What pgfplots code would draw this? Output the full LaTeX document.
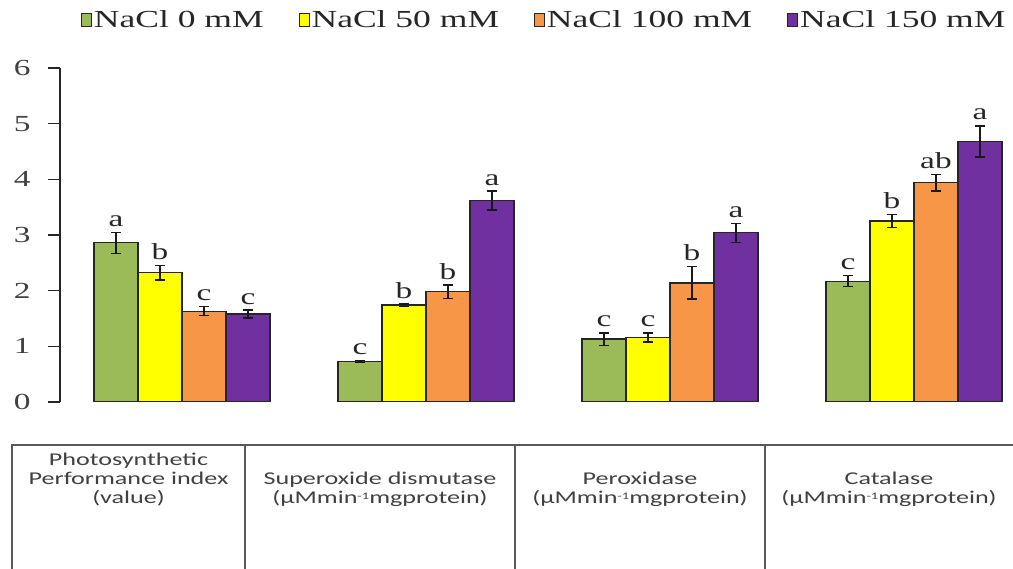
\documentclass[border=0pt]{standalone}
\usepackage{fontspec}
\setmainfont[FakeStretch=1.45]{Liberation Serif}
\newfontfamily\tabfont[FakeStretch=1.45]{Carlito}
\usepackage{pgfplots}
\pgfplotsset{compat=1.18}
\usepackage{pgfplotstable}
\definecolor{cgreen}{HTML}{9BBB59}
\definecolor{cyellow}{HTML}{FFFF00}
\definecolor{corange}{HTML}{F79646}
\definecolor{cpurple}{HTML}{7030A0}
\definecolor{txt}{HTML}{404040}
\definecolor{tabline}{HTML}{595959}

\pgfplotstableread{
x y e l
0 2.86 0.19 a
1 0.73 0.02 c
2 1.13 0.11 c
3 2.17 0.10 c
}\dgreen
\pgfplotstableread{
x y e l
0 2.32 0.13 b
1 1.74 0.02 b
2 1.16 0.08 c
3 3.25 0.12 b
}\dyellow
\pgfplotstableread{
x y e l
0 1.63 0.08 c
1 1.98 0.12 b
2 2.14 0.29 b
3 3.94 0.15 ab
}\dorange
\pgfplotstableread{
x y e l
0 1.58 0.07 c
1 3.62 0.17 a
2 3.04 0.17 a
3 4.68 0.28 a
}\dpurple

\begin{document}
\begin{tikzpicture}[x=1pt,y=1pt]
\path[use as bounding box] (0,0) rectangle (1013,569);
\begin{axis}[
  at={(60pt,167pt)}, anchor=south west,
  scale only axis, width=953pt, height=334pt,
  xmin=-0.5, xmax=3.406, ymin=0, ymax=6,
  axis x line=none, axis y line*=left,
  y axis line style={line width=1.2pt, color=black!85},
  ytick={0,1,2,3,4,5,6},
  tick align=outside, major tick length=12pt,
  every tick/.style={line width=1.2pt, color=black!85},
  /pgf/number format/assume math mode=true,
  yticklabel style={font=\fontsize{23}{26}\selectfont, text=txt, anchor=east, xshift=-14pt},
  ybar=0pt, bar width=44pt,
  legend image code/.code={\draw[#1, line width=0.9pt] (0pt,-6.5pt) rectangle (10pt,6.5pt);},
  legend columns=4,
  legend style={draw=none, fill=none, at={(0.9975,1.1437)}, anchor=east,
    font=\fontsize{24.5}{26}\selectfont, text=black!85,
    /tikz/every even column/.append style={column sep=33pt},
    nodes={inner sep=2pt}},
  legend cell align=left,
  point meta=explicit symbolic,
  nodes near coords,
  visualization depends on={55.667*\thisrow{e}+6 \as \eshift},
  every node near coord/.append style={anchor=base, yshift=\eshift pt,
    font=\fontsize{23}{24}\selectfont, text=black!85},
  error bars/y dir=both, error bars/y explicit,
  error bars/error bar style={line width=1.3pt, color=black!90},
  error bars/error mark options={rotate=90, mark size=5pt, line width=1.3pt, color=black!90},
]
\addplot[fill=cgreen, draw=black!85, line width=1.3pt] table[x=x, y=y, y error=e, meta=l] {\dgreen};
\addlegendentry{NaCl 0 mM}
\addplot[fill=cyellow, draw=black!85, line width=1.3pt] table[x=x, y=y, y error=e, meta=l] {\dyellow};
\addlegendentry{NaCl 50 mM}
\addplot[fill=corange, draw=black!85, line width=1.3pt] table[x=x, y=y, y error=e, meta=l] {\dorange};
\addlegendentry{NaCl 100 mM}
\addplot[fill=cpurple, draw=black!85, line width=1.3pt] table[x=x, y=y, y error=e, meta=l] {\dpurple};
\addlegendentry{NaCl 150 mM}
\end{axis}
% table below the chart
\draw[tabline, line width=2pt] (12,124) -- (1013,124);
\foreach \xx in {12,245,515,765} {\draw[tabline, line width=1.6pt] (\xx,125) -- (\xx,0);}
\begin{scope}[every node/.style={font=\tabfont\fontsize{18}{19}\selectfont, text=txt, align=center}]
\node at (128.5,89) {Photosynthetic\\Performance index\\(value)};
\node at (380,79.5) {Superoxide dismutase\\(µMmin{\fontsize{10}{10}\selectfont\raisebox{4pt}{-1}}mgprotein)};
\node at (640,79.5) {Peroxidase\\(µMmin{\fontsize{10}{10}\selectfont\raisebox{4pt}{-1}}mgprotein)};
\node at (889,79.5) {Catalase\\(µMmin{\fontsize{10}{10}\selectfont\raisebox{4pt}{-1}}mgprotein)};
\end{scope}
\end{tikzpicture}
\end{document}
